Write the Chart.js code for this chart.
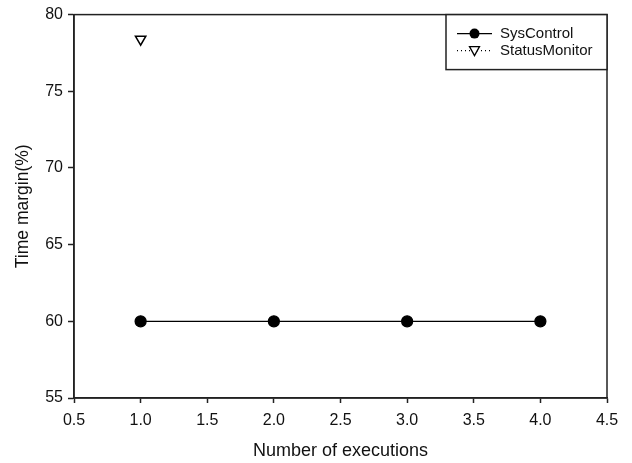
<!DOCTYPE html>
<html>
<head>
<meta charset="utf-8">
<script src="https://cdn.jsdelivr.net/npm/chart.js@4"></script>
<style>
  html, body { margin: 0; padding: 0; background: #fff; }
  #wrap { width: 632px; height: 463px; }
</style>
</head>
<body>
<div id="wrap"><canvas id="timeChart"></canvas></div>
<script>
// data
const executions = [1, 2, 3, 4];
const sysControl = [60, 60, 60, 60];
const statusMonitorX = [1];
const statusMonitor = [78.4];
const seriesNames = ['SysControl', 'StatusMonitor'];

const FONT = "'Liberation Sans', Arial, sans-serif";

// frame on top/right plus boxed legend in upper right corner
const frameAndLegend = {
    id: 'frameAndLegend',
    afterDatasetsDraw(chart) {
        const ctx = chart.ctx;
        const a = chart.chartArea;
        ctx.save();
        ctx.strokeStyle = '#222';
        ctx.lineWidth = 1.5;
        ctx.strokeRect(a.left, a.top, a.right - a.left, a.bottom - a.top);

        // legend box
        const w = 161, h = 55;
        const x0 = a.right - w, y0 = a.top;
        ctx.fillStyle = '#fff';
        ctx.fillRect(x0, y0, w, h);
        ctx.strokeRect(x0, y0, w, h);

        ctx.font = '15px ' + FONT;
        ctx.textBaseline = 'middle';
        chart.data.datasets.forEach((ds, i) => {
            const cy = y0 + 19 + i * 17;
            const lx = x0 + 11, rx = x0 + 46, mx = (lx + rx) / 2;
            ctx.beginPath();
            ctx.setLineDash(ds.borderDash || []);
            ctx.lineWidth = 1.3;
            ctx.strokeStyle = '#000';
            ctx.moveTo(lx, cy);
            ctx.lineTo(rx, cy);
            ctx.stroke();
            ctx.setLineDash([]);
            if (ds.pointStyle === 'circle') {
                ctx.beginPath();
                ctx.arc(mx, cy, 5, 0, Math.PI * 2);
                ctx.fillStyle = '#000';
                ctx.fill();
            } else {
                ctx.beginPath();
                ctx.moveTo(mx - 5, cy - 4);
                ctx.lineTo(mx + 5, cy - 4);
                ctx.lineTo(mx, cy + 5);
                ctx.closePath();
                ctx.fillStyle = '#fff';
                ctx.fill();
                ctx.lineWidth = 1.3;
                ctx.stroke();
            }
            ctx.fillStyle = '#111';
            ctx.fillText(ds.label, x0 + 54, cy);
        });
        ctx.restore();
    }
};

const ctx = document.getElementById('timeChart').getContext('2d');
const timeChart = new Chart(ctx, {
    type: 'line',
    data: {
        datasets: [{
            label: seriesNames[0],
            data: executions.map((x, i) => ({ x: x, y: sysControl[i] })),
            borderColor: '#000',
            borderWidth: 1.3,
            pointStyle: 'circle',
            pointRadius: 5.5,
            pointBackgroundColor: '#000',
            pointBorderColor: '#000',
            tension: 0
        }, {
            label: seriesNames[1],
            data: statusMonitorX.map((x, i) => ({ x: x, y: statusMonitor[i] })),
            borderColor: '#000',
            borderWidth: 1.3,
            borderDash: [1, 3],
            pointStyle: 'triangle',
            rotation: 180,
            pointRadius: 6,
            pointBackgroundColor: '#fff',
            pointBorderColor: '#000',
            pointBorderWidth: 1.5,
            tension: 0
        }]
    },
    options: {
        responsive: true,
        maintainAspectRatio: false,
        animation: false,
        layout: { padding: { top: 14, right: 25, left: 0, bottom: 0 } },
        plugins: {
            legend: { display: false },
            tooltip: { enabled: false }
        },
        scales: {
            x: {
                type: 'linear',
                min: 0.5,
                max: 4.5,
                afterFit(scale) { scale.height = 65; },
                border: { color: '#222', width: 1.5 },
                grid: { drawOnChartArea: false, drawTicks: true, tickLength: 5, color: '#222', tickWidth: 1.5 },
                ticks: {
                    stepSize: 0.5,
                    padding: 8,
                    color: '#111',
                    font: { family: FONT, size: 16 },
                    callback: v => v.toFixed(1)
                },
                title: {
                    display: true,
                    text: 'Number of executions',
                    color: '#111',
                    font: { family: FONT, size: 18 },
                    padding: { top: 0, bottom: 1 }
                }
            },
            y: {
                min: 55,
                max: 80,
                afterFit(scale) { scale.width = 74; },
                border: { color: '#222', width: 1.5 },
                grid: { drawOnChartArea: false, drawTicks: true, tickLength: 6, color: '#222', tickWidth: 1.5 },
                ticks: {
                    stepSize: 5,
                    padding: 5,
                    color: '#111',
                    font: { family: FONT, size: 16 }
                },
                title: {
                    display: true,
                    text: 'Time margin(%)',
                    color: '#111',
                    font: { family: FONT, size: 17.5 },
                    padding: { top: 13, bottom: 0 }
                }
            }
        }
    },
    plugins: [frameAndLegend]
});
</script>
</body>
</html>
